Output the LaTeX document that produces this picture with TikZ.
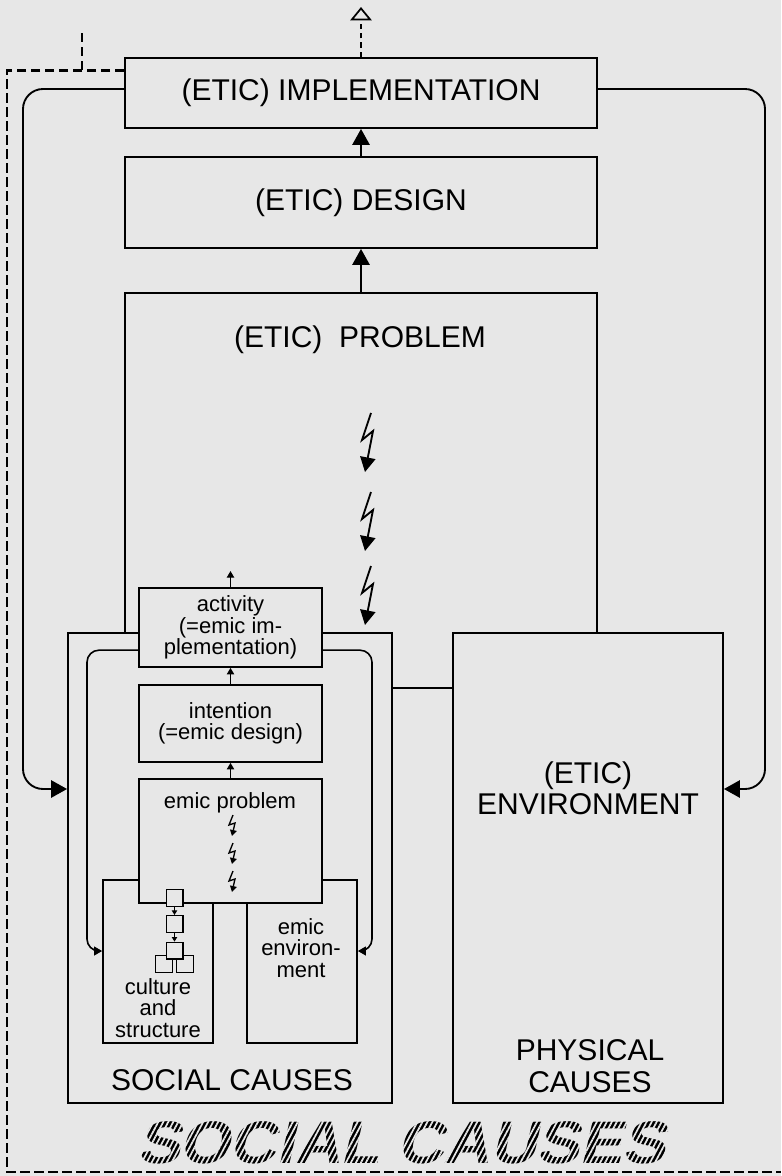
\documentclass[tikz,border=0pt]{standalone}
\usepackage{fontspec}
\setmainfont{Liberation Sans}
\newfontfamily\hatchfamily[FakeSlant=0.22, FakeStretch=1.07]{Liberation Sans Bold}
\usetikzlibrary{arrows.meta, positioning, fit, patterns.meta}
\definecolor{paper}{RGB}{231,231,231}
\newcommand{\eticfont}{\fontsize{22.5pt}{23.5pt}\selectfont}
\newcommand{\emicfont}{\fontsize{16.5pt}{16pt}\selectfont}
\newcommand{\hatchfont}{\hatchfamily\fontsize{45pt}{48pt}\selectfont}
\tikzstyle{etic} = [rectangle, draw=black, line width=1.4pt, fill=paper, inner sep=0pt, text centered, font=\eticfont]
\tikzstyle{emic} = [rectangle, draw=black, line width=1.2pt, fill=paper, inner sep=0pt, align=center, font=\emicfont]
\tikzstyle{cellbox} = [rectangle, draw=black, line width=1pt, fill=paper, minimum size=12.5pt, inner sep=0pt]
\tikzstyle{biglabel} = [align=center, font=\eticfont]
\tikzstyle{smalllabel} = [align=center, font=\emicfont]
\tikzstyle{arrow} = [line width=1.4pt, -{Triangle[length=12pt, width=13pt]}]
\tikzstyle{smallarrow} = [line width=1pt, -{Triangle[length=5pt, width=5.5pt]}]
\tikzstyle{tinyarrow} = [line width=0.8pt, -{Triangle[length=3.5pt, width=4pt]}]
\tikzstyle{feedback} = [arrow, rounded corners=15pt]
\tikzstyle{innerfeedback} = [line width=1.2pt, rounded corners=9pt, -{Triangle[length=6pt, width=6.5pt]}]
\tikzstyle{bolt} = [line width=1.4pt, -{Triangle[length=11pt, width=11.5pt]}]
\tikzstyle{smallbolt} = [line width=1pt, -{Triangle[length=4.5pt, width=5pt]}]
\tikzstyle{dashframe} = [line width=1.8pt, dash pattern=on 7pt off 3.5pt]
\tikzstyle{exitarrow} = [line width=1.3pt, dash pattern=on 4pt off 3pt, -{Triangle[open, length=10pt, width=16pt]}]

\begin{document}
\begin{tikzpicture}[x=0.75pt, y=-0.75pt]
\useasboundingbox (0,0) rectangle (781,1176);
\fill [paper] (0,0) rectangle (781,1176);

% etic problem sits behind the two cause boxes
\node (problem) [etic, fit={(125,293) (597,688)}] {};
\node (problemlabel) [biglabel] at (360,340) {(ETIC)\ \ PROBLEM};

\node (social) [etic, fit={(68,633) (392,1103)}] {};
\node (env) [etic, fit={(453,633) (723,1103)}] {};

\node (impl) [etic, minimum width=354pt, minimum height=52.5pt] at (361,93) {(ETIC) IMPLEMENTATION};
\node (design) [etic, minimum width=354pt, minimum height=68.25pt] at (361,202.5) {(ETIC) DESIGN};

\node (culture) [emic, fit={(103,880) (213,1043)}] {};
\node (emicenv) [emic, fit={(247,880) (357,1043)}] {};
\node (emicprob) [emic, fit={(139,779) (322,903)}] {};
\node (intention) [emic, minimum width=137.25pt, minimum height=57.75pt] at (230.5,723.5) {intention\\(=emic design)};
\node (activity) [emic, minimum width=137.25pt, minimum height=59.25pt] at (230.5,627.5) {activity\\(=emic im-\\plementation)};

\node (emicproblabel) [smalllabel] at (230,803) {emic problem};
\node (culturelabel) [smalllabel] at (158,1008) {culture\\and\\structure};
\node (emicenvlabel) [smalllabel] at (301,948) {emic\\environ-\\ment};
\node (sociallabel) [biglabel] at (232,1080) {SOCIAL CAUSES};
\node (envlabel) [biglabel] at (588,788) {(ETIC)\\ENVIRONMENT};
\node (physlabel) [biglabel] at (590,1066) {PHYSICAL\\CAUSES};

\node (cellleft) [cellbox] at (164,964) {};
\node (cellright) [cellbox] at (185,964) {};
\node (cellone) [cellbox] at (174.5,898) {};
\node (celltwo) [cellbox, below=6pt of cellone] {};
\node (cellthree) [cellbox, below=6.5pt of celltwo] {};

\coordinate (activityout) at (230.5,571);
\coordinate (bolta) at (371,413);
\coordinate (boltb) at (371,492);
\coordinate (boltc) at (371,566);
\coordinate (sparka) at (233,815);
\coordinate (sparkb) at (233,843);
\coordinate (sparkc) at (233,871);
\coordinate (leftturn) at (23,789);
\coordinate (rightturn) at (765,789);
\coordinate (innerleft) at (87,951);
\coordinate (innerright) at (372,951);
\coordinate (framecorner) at (7,1172);
\coordinate (frameend) at (781,1172);
\coordinate (stubfoot) at (82,70);
\coordinate (stubtop) at (82,32);
\coordinate (exitup) at (361,7);

\draw [arrow] (design) -- (impl);
\draw [arrow] (problem) -- (design);
\draw [smallarrow] (activity) -- (activityout);
\draw [smallarrow] (intention) -- (activity);
\draw [smallarrow] (emicprob) -- (intention);
\draw [tinyarrow] (cellone) -- (celltwo);
\draw [tinyarrow] (celltwo) -- (cellthree);

\draw [bolt] (bolta) -- ++(-9,27) -- ++(11,-9) -- ++(-8,41);
\draw [bolt] (boltb) -- ++(-9,27) -- ++(11,-9) -- ++(-8,41);
\draw [bolt] (boltc) -- ++(-9,27) -- ++(11,-9) -- ++(-8,41);
\draw [smallbolt] (sparka) -- ++(-4,10) -- ++(6,-2) -- ++(-3,13);
\draw [smallbolt] (sparkb) -- ++(-4,10) -- ++(6,-2) -- ++(-3,13);
\draw [smallbolt] (sparkc) -- ++(-4,10) -- ++(6,-2) -- ++(-3,13);

\draw [feedback] ([yshift=3pt]impl.west) -| (leftturn) -- (leftturn -| social.west);
\draw [feedback] ([yshift=3pt]impl.east) -| (rightturn) -- (rightturn -| env.east);
\draw [innerfeedback] ([yshift=-17pt]activity.west) -| (innerleft) -- (innerleft -| culture.west);
\draw [innerfeedback] ([yshift=-17pt]activity.east) -| (innerright) -- (innerright -| emicenv.east);

\node (hatchtext) [font=\hatchfont, inner sep=3pt] at (401,1143) {SOCIAL CAUSES};
\fill [pattern={Lines[angle=62, distance=3.3pt, line width=1.3pt]}, pattern color=paper] ([xshift=-4pt]hatchtext.south west) rectangle ([xshift=8pt]hatchtext.north east);

\draw [dashframe] ([yshift=17pt]impl.west) -| (framecorner) -- (frameend);
\draw [dashframe] (stubfoot) -- (stubtop);
\draw [exitarrow] (impl) -- (exitup);
\end{tikzpicture}
\end{document}
